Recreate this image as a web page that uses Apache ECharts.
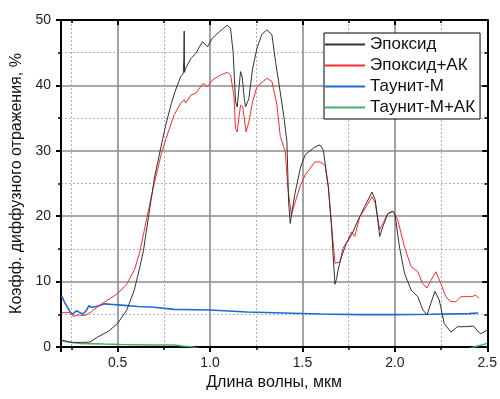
<!DOCTYPE html>
<html><head><meta charset="utf-8">
<script src="https://cdn.jsdelivr.net/npm/echarts@6/dist/echarts.min.js"></script>
<style>html,body{margin:0;padding:0;background:#fff}#c{width:500px;height:399px}</style>
</head><body><div id="c"></div>
<script>
const seriesNames = ['Эпоксид', 'Эпоксид+АК', 'Таунит-М', 'Таунит-М+АК'];
const xTickLabels = [0.5, 1.0, 1.5, 2.0, 2.5];
const yTickLabels = [0, 10, 20, 30, 40, 50];

const epoxyX = [0.20,0.22,0.24,0.26,0.30,0.35,0.39,0.45,0.50,0.55,0.59,0.62,0.64,0.67,0.70,0.73,0.76,0.79,0.81,0.84,0.855,0.858,0.86,0.862,0.866,0.87,0.896,0.923,0.959,0.986,1.012,1.05,1.093,1.111,1.125,1.138,1.147,1.158,1.165,1.174,1.185,1.192,1.21,1.23,1.254,1.28,1.308,1.335,1.355,1.371,1.398,1.416,1.425,1.434,1.445,1.461,1.49,1.515,1.568,1.595,1.613,1.64,1.657,1.668,1.676,1.685,1.693,1.711,1.738,1.765,1.801,1.837,1.876,1.894,1.918,1.935,1.962,1.989,2.0,2.025,2.052,2.088,2.124,2.151,2.174,2.195,2.217,2.24,2.267,2.303,2.339,2.375,2.425,2.463,2.5];
const epoxyY = [1.05,0.9,0.75,0.7,0.7,0.75,1.5,2.4,3.6,5.7,8.7,12.2,14.8,20.5,26,30,33.9,37.2,39,41.3,41.8,44,48.3,42.0,42.5,42.3,44.1,44.9,46.7,45.9,47.2,48.2,49.2,48.7,45,37.5,36.7,40,42.1,41.3,38,36.7,38,42.5,45.7,47.8,48.5,47.7,43.5,40.6,35.5,31.4,22.2,18.9,21,23.7,27.5,29.4,30.6,30.9,30.1,24.5,18.4,13,9.6,10.5,11.8,13.8,15.9,17.1,19.4,21.5,23.7,22.5,16.9,18.4,20.4,20.7,20.4,15.3,11.3,8.7,7.7,5.7,4.9,6.7,8.5,7.2,3.6,2.3,3.1,3.1,3.2,2.0,2.6];

const epoxyAkX = [0.197,0.242,0.26,0.287,0.323,0.358,0.394,0.43,0.475,0.5,0.547,0.591,0.618,0.641,0.663,0.69,0.735,0.762,0.806,0.842,0.86,0.869,0.896,0.923,0.962,0.986,1.012,1.05,1.093,1.111,1.129,1.138,1.147,1.165,1.177,1.195,1.21,1.23,1.254,1.308,1.335,1.362,1.38,1.407,1.421,1.44,1.461,1.49,1.515,1.568,1.595,1.622,1.64,1.657,1.676,1.702,1.72,1.747,1.765,1.783,1.81,1.846,1.876,1.894,1.918,1.935,1.962,1.989,2.016,2.052,2.088,2.124,2.151,2.174,2.195,2.222,2.249,2.276,2.30,2.33,2.357,2.419,2.437,2.455];
const epoxyAkY = [5.25,5.25,4.7,4.9,4.8,5.4,6.2,6.9,7.7,8.2,9.5,11.8,14.3,17.4,20.4,24,29.4,31.9,35.5,37.3,37.8,37.3,38.5,38.8,40.3,39.8,40.8,41.5,42,41.6,38.5,33.4,32.9,37,36.7,32.9,34.4,37.5,39.8,41.1,40.6,37,32.2,29.9,24.3,20.2,22.2,24.8,26.3,28.3,28.3,27.8,24.5,18.9,12.8,13,15.1,16.4,17.6,16.9,19.9,21.5,23,22,17.9,18.9,20.4,20.8,19.4,15.3,12.3,11.5,9.7,9.0,10.2,11.5,9.7,7.7,7.0,6.9,7.7,7.7,7.95,7.4];

const taunitX = [0.197,0.215,0.242,0.254,0.278,0.296,0.314,0.332,0.344,0.358,0.385,0.43,0.475,0.52,0.609,0.699,0.806,1.0,1.2,1.4,1.6,1.8,2.0,2.2,2.4,2.45];
const taunitY = [7.8,6.7,5.4,5.0,5.55,5.25,5.05,5.65,6.3,6.07,6.2,6.6,6.5,6.4,6.2,6.07,5.75,5.65,5.35,5.2,5.05,4.95,4.95,5.0,5.1,5.2];

const taunitAkX = [0.197,0.242,0.3,0.43,0.52,0.7,0.806,0.85,0.9,0.95,2.4,2.44,2.47,2.5];
const taunitAkY = [0.96,0.72,0.55,0.45,0.4,0.32,0.3,0.15,0.05,-0.3,-0.3,0.1,0.3,0.55];

const colors = ['#333333', '#ff2a2a', '#2268d8', '#4cae6e'];
const widths = [1, 1, 1.6, 1.5];

function pairs(xs, ys) { return xs.map((x, i) => [x, ys[i]]); }
const dataSets = [pairs(epoxyX, epoxyY), pairs(epoxyAkX, epoxyAkY), pairs(taunitX, taunitY), pairs(taunitAkX, taunitAkY)];

const FONT = 'Liberation Sans, Arial, sans-serif';
const X_MIN = 0.1935, X_MAX = 2.5;
const MAJOR_GRID = {color: '#8c8c8c', width: 1.6};
const MINOR_GRID = {color: '#b0b0b0', width: 1, type: [2, 2]};

const chart = echarts.init(document.getElementById('c'), null, {renderer: 'canvas'});
chart.setOption({
  backgroundColor: '#ffffff',
  animation: false,
  grid: {left: 61, top: 20, right: 10, bottom: 52, containLabel: false},
  legend: {
    data: seriesNames.map((n, i) => ({name: n, icon: 'rect', itemStyle: {color: colors[i]}})),
    orient: 'vertical',
    left: 324, top: 33,
    width: 163,
    backgroundColor: '#ffffff',
    borderColor: '#000', borderWidth: 1, borderRadius: 0,
    padding: [1, 5, 1, 1],
    itemGap: 0,
    itemWidth: 40, itemHeight: 2,
    textStyle: {fontFamily: FONT, fontSize: 17, color: '#111', lineHeight: 21, padding: [0,0,0,0]}
  },
  xAxis: [{
    type: 'value', min: X_MIN, max: X_MAX, minInterval: 0.5, maxInterval: 0.5,
    position: 'bottom',
    name: 'Длина волны, мкм', nameLocation: 'middle', nameGap: 28,
    nameTextStyle: {fontFamily: FONT, fontSize: 16, color: '#111'},
    axisLine: {show: true, onZero: false, lineStyle: {color: '#000', width: 2}},
    axisTick: {show: true, inside: false, length: 5, lineStyle: {color: '#000', width: 2}},
    minorTick: {show: true, splitNumber: 2, length: 3, lineStyle: {color: '#000', width: 1.5}},
    axisLabel: {fontFamily: FONT, fontSize: 14, color: '#222', margin: 9, showMinLabel: false,
      formatter: v => xTickLabels.some(t => Math.abs(t - v) < 1e-6) ? v.toFixed(1) : ''},
    splitLine: {show: true, lineStyle: MAJOR_GRID},
    minorSplitLine: {show: true, lineStyle: MINOR_GRID}
  }, {
    type: 'value', min: X_MIN, max: X_MAX, minInterval: 0.5, maxInterval: 0.5,
    position: 'top',
    axisLine: {show: true, onZero: false, lineStyle: {color: '#000', width: 2}},
    axisTick: {show: true, inside: true, length: 5, lineStyle: {color: '#000', width: 2}},
    minorTick: {show: true, splitNumber: 2, length: 3, lineStyle: {color: '#000', width: 1.5}},
    axisLabel: {show: false},
    splitLine: {show: false}
  }],
  yAxis: [{
    type: 'value', min: 0, max: 50, interval: 10,
    position: 'left',
    name: 'Коэфф. диффузного отражения, %', nameLocation: 'middle', nameGap: 36,
    nameTextStyle: {fontFamily: FONT, fontSize: 16, color: '#111'},
    axisLine: {show: true, onZero: false, lineStyle: {color: '#000', width: 2}},
    axisTick: {show: true, inside: false, length: 5, lineStyle: {color: '#000', width: 2}},
    minorTick: {show: true, splitNumber: 2, length: 3, lineStyle: {color: '#000', width: 1.5}},
    axisLabel: {fontFamily: FONT, fontSize: 14, color: '#222', margin: 10,
      formatter: v => yTickLabels.includes(v) ? String(v) : ''},
    splitLine: {show: true, lineStyle: MAJOR_GRID},
    minorSplitLine: {show: true, lineStyle: MINOR_GRID}
  }, {
    type: 'value', min: 0, max: 50, interval: 10,
    position: 'right',
    axisLine: {show: true, onZero: false, lineStyle: {color: '#000', width: 2}},
    axisTick: {show: true, inside: true, length: 5, lineStyle: {color: '#000', width: 2}},
    minorTick: {show: true, splitNumber: 2, length: 3, lineStyle: {color: '#000', width: 1.5}},
    axisLabel: {show: false},
    splitLine: {show: false}
  }],
  series: seriesNames.map((name, i) => ({
    name, type: 'line', xAxisIndex: 0, yAxisIndex: 0,
    data: dataSets[i], showSymbol: false, symbol: 'none', smooth: false,
    clip: true,
    color: colors[i],
    lineStyle: {color: colors[i], width: widths[i]},
    z: 10 - i
  }))
});
</script></body></html>
